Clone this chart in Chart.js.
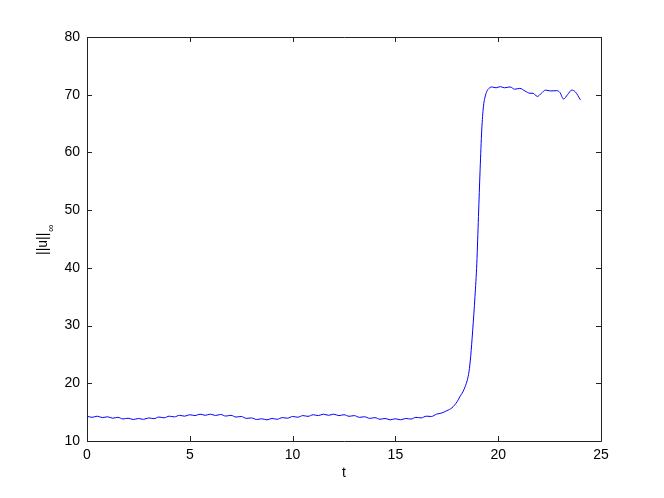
<!DOCTYPE html>
<html>
<head>
<meta charset="utf-8">
<script src="https://cdn.jsdelivr.net/npm/chart.js@4"></script>
<style>
html,body{margin:0;padding:0;background:#fff;}
#wrap{width:664px;height:498px;}
</style>
</head>
<body>
<div id="wrap"><canvas id="c" width="664" height="498"></canvas></div>
<script>
const tValues = [
0,0.25,0.5,0.75,1,1.25,1.5,1.75,2,2.25,2.5,2.75,3,3.25,3.5,3.75,4,4.25,4.5,4.75,
5,5.25,5.5,5.75,6,6.25,6.5,6.75,7,7.25,7.5,7.75,8,8.25,8.5,8.75,9,9.25,9.5,9.75,
10,10.25,10.5,10.75,11,11.25,11.5,11.75,12,12.25,12.5,12.75,13,13.25,13.5,13.75,14,14.25,14.5,14.75,
15,15.25,15.5,15.75,16,16.25,16.5,16.75,17,17.25,17.5,17.75,
18.0,18.14,18.28,18.39,18.5,18.58,18.66,18.76,18.87,18.96,19.04,19.12,19.2,19.28,19.36,19.45,19.55,19.68,
19.9,20.1,20.3,20.58,20.8,21.05,21.3,21.55,21.7,21.9,22.1,22.3,22.55,22.85,23.0,23.18,23.37,23.58,23.75,24.0
];
const normValues = [
14.30,14.10,14.30,14.05,14.20,13.95,14.10,13.82,13.95,13.72,13.90,13.75,14.00,13.87,14.15,14.02,14.30,14.18,14.45,14.30,
14.55,14.40,14.65,14.45,14.65,14.42,14.60,14.32,14.45,14.15,14.25,13.92,14.00,13.72,13.85,13.67,13.90,13.77,14.05,13.95,
14.25,14.12,14.40,14.27,14.55,14.40,14.65,14.45,14.65,14.40,14.55,14.28,14.40,14.10,14.20,13.92,14.05,13.77,13.90,13.67,
13.85,13.67,13.90,13.80,14.10,14.00,14.30,14.25,14.65,14.85,15.25,15.75,
16.8,17.7,18.5,19.4,20.6,22.0,24.6,29.2,35.0,40.8,48.9,57.0,63.9,67.9,69.6,70.6,71.1,71.35,
71.2,71.4,71.2,71.35,70.95,71.1,70.65,70.25,70.25,69.7,70.25,70.8,70.65,70.7,70.4,69.25,70.0,70.8,70.5,69.1
];
const xTicks = [0,5,10,15,20,25];
const yTicks = [10,20,30,40,50,60,70,80];
const xLabel = 't';
const yLabel = '||u||';
const ySub = '\u221E';

const points = tValues.map((t,i)=>({x:t,y:normValues[i]}));
const FONT = '"Liberation Sans", Arial, Helvetica, sans-serif';

const framePlugin = {
  id:'frame',
  afterDraw(chart){
    const {ctx, chartArea:a, scales:{x,y}} = chart;
    ctx.save();
    ctx.strokeStyle = '#222';
    ctx.lineWidth = 1;
    ctx.beginPath();
    ctx.rect(Math.round(a.left)+0.5, Math.round(a.top)+0.5, Math.round(a.right-a.left), Math.round(a.bottom-a.top));
    ctx.stroke();
    const L = 5;
    ctx.beginPath();
    xTicks.forEach(v=>{
      const px = Math.round(x.getPixelForValue(v))+0.5;
      ctx.moveTo(px, a.bottom); ctx.lineTo(px, a.bottom-L);
      ctx.moveTo(px, a.top); ctx.lineTo(px, a.top+L);
    });
    yTicks.forEach(v=>{
      const py = Math.round(y.getPixelForValue(v))+0.5;
      ctx.moveTo(a.left, py); ctx.lineTo(a.left+L, py);
      ctx.moveTo(a.right, py); ctx.lineTo(a.right-L, py);
    });
    ctx.stroke();
    // axis titles
    ctx.fillStyle = '#000';
    ctx.font = '14px ' + FONT;
    ctx.textAlign = 'center';
    ctx.textBaseline = 'alphabetic';
    ctx.fillText(xLabel, (a.left+a.right)/2, 477);
    ctx.translate(47, 255);
    ctx.rotate(-Math.PI/2);
    ctx.textAlign = 'left';
    ctx.fillText(yLabel, 0, 0);
    const w = ctx.measureText(yLabel).width;
    ctx.font = '10px ' + FONT;
    ctx.fillText(ySub, w+1, 7);
    ctx.restore();
  }
};

new Chart(document.getElementById('c'), {
  type:'line',
  data:{datasets:[{
    data:points,
    borderColor:'#0000ff',
    borderWidth:1,
    pointRadius:0,
    fill:false,
    cubicInterpolationMode:'monotone'
  }]},
  options:{
    responsive:false,
    animation:false,
    devicePixelRatio:1,
    layout:{padding:{left:0,top:37,right:63,bottom:0}},
    plugins:{legend:{display:false},tooltip:{enabled:false}},
    scales:{
      x:{
        type:'linear', min:0, max:25,
        afterBuildTicks(s){ s.ticks = xTicks.map(v=>({value:v})); },
        afterFit(s){ s.height = 57; },
        grid:{display:false, drawTicks:false},
        border:{display:false},
        ticks:{color:'#000', padding:6, font:{family:FONT,size:14}, maxRotation:0}
      },
      y:{
        type:'linear', min:10, max:80,
        afterBuildTicks(s){ s.ticks = yTicks.map(v=>({value:v})); },
        afterFit(s){ s.width = 87; },
        grid:{display:false, drawTicks:false},
        border:{display:false},
        ticks:{color:'#000', padding:7, font:{family:FONT,size:14}}
      }
    }
  },
  plugins:[framePlugin]
});
</script>
</body>
</html>
